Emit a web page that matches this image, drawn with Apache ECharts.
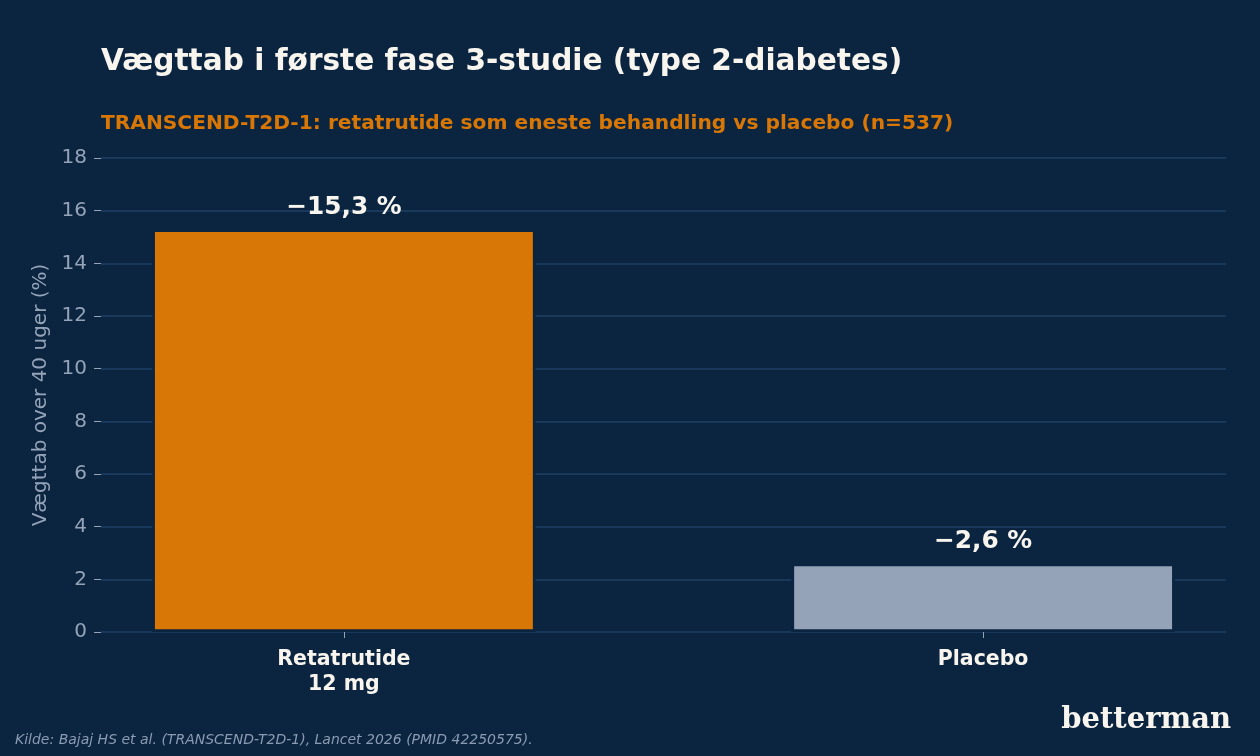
<!DOCTYPE html>
<html><head><meta charset="utf-8">
<script src="https://cdn.jsdelivr.net/npm/echarts@6/dist/echarts.min.js"></script>
<style>html,body{margin:0;padding:0;background:#0b2540;}#c{width:1260px;height:756px;}</style>
</head><body><div id="c"></div>
<script>
const categories = ["Retatrutide\n12 mg", "Placebo"];
const positions = [0, 1];
const values = [15.3, 2.6];
const valueLabels = ["\u221215,3 %", "\u22122,6 %"];
const barColors = ["#d97706", "#94a3b8"];
const yTicks = [0, 2, 4, 6, 8, 10, 12, 14, 16, 18];

const BG = "#0b2540";
const FONT = "DejaVu Sans";
const chart = echarts.init(document.getElementById('c'), null, {renderer: 'canvas'});
const gridLeft = 101, gridRight = 34;
const xMin = -0.38, xMax = 1.38;
const barW = (1260 - gridLeft - gridRight) / (xMax - xMin) * 0.6;

chart.setOption({
  backgroundColor: BG,
  animation: false,
  textStyle: {fontFamily: FONT},
  title: [
    {text: "Vægttab i første fase 3-studie (type 2-diabetes)", left: 101, top: 47, padding: 0,
     textStyle: {color: "#f8f5ef", fontSize: 29.6, fontWeight: "bold", fontFamily: FONT}},
    {text: "TRANSCEND-T2D-1: retatrutide som eneste behandling vs placebo (n=537)", left: 101, top: 114, padding: 0,
     textStyle: {color: "#d97706", fontSize: 20.2, fontWeight: "bold", fontFamily: FONT}}
  ],
  grid: {left: gridLeft, right: gridRight, top: 158, bottom: 124, containLabel: false},
  xAxis: {
    type: 'value', min: xMin, max: xMax,
    splitLine: {show: false},
    axisLine: {show: false, onZero: false},
    axisTick: {show: true, customValues: positions, length: 6, lineStyle: {color: "#94a3b8", width: 1}},
    axisLabel: {customValues: positions, margin: 15, color: "#f8f5ef", fontSize: 20.5, fontWeight: "bold",
      fontFamily: FONT, lineHeight: 25, align: 'center',
      formatter: v => categories[positions.indexOf(Math.round(v))] || ''}
  },
  yAxis: {
    type: 'value', min: 0, max: 18, interval: 2,
    name: "Vægttab over 40 uger (%)", nameLocation: 'middle', nameGap: 47, nameRotate: 90,
    nameTextStyle: {color: "#94a3b8", fontSize: 20, fontFamily: FONT},
    axisLine: {show: false, onZero: false},
    axisTick: {show: true, length: 7, lineStyle: {color: "#94a3b8", width: 1}},
    axisLabel: {color: "#94a3b8", fontSize: 20, margin: 14, fontFamily: FONT,
      formatter: v => yTicks.includes(v) ? String(v) : ''},
    splitLine: {show: true, lineStyle: {color: "#1e3f66", width: 1.5}}
  },
  series: [{
    type: 'bar',
    barWidth: barW,
    data: positions.map((p, i) => ({value: [p, values[i]], itemStyle: {color: barColors[i]}})),
    itemStyle: {borderColor: BG, borderWidth: 2.8},
    label: {show: true, position: 'top', distance: 9.5, color: "#f8f5ef", fontSize: 24.8,
      fontWeight: 'bold', fontFamily: FONT, formatter: p => valueLabels[p.dataIndex]}
  }],
  graphic: [
    {type: 'text', left: 15, top: 733.5,
     style: {text: "Kilde: Bajaj HS et al. (TRANSCEND-T2D-1), Lancet 2026 (PMID 42250575).",
       fill: "#8a9bb3", font: "italic 14px 'DejaVu Sans'"}},
    {type: 'text', right: 29, top: 706,
     style: {text: "betterman", fill: "#f8f5ef", font: "bold 29px 'DejaVu Serif'"}}
  ]
});
</script></body></html>
